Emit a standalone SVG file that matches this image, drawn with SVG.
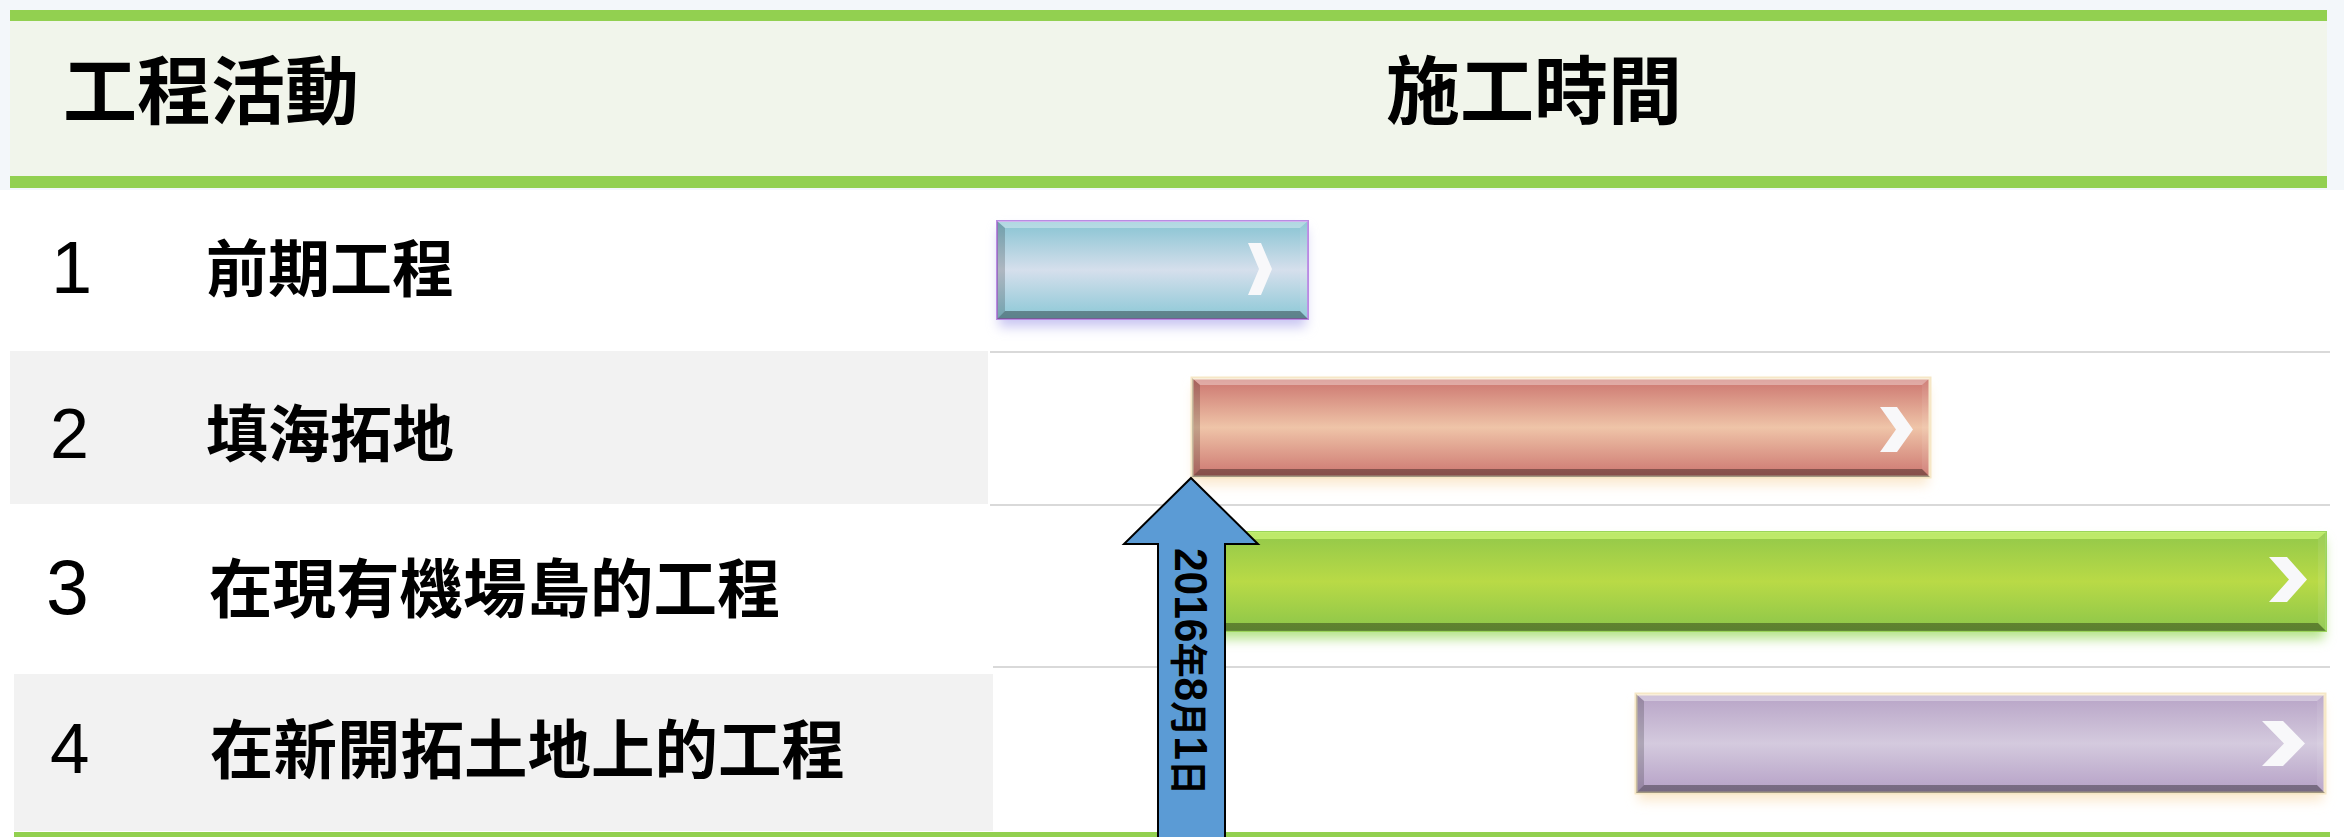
<svg xmlns="http://www.w3.org/2000/svg" width="2344" height="837" viewBox="0 0 2344 837">
<defs>
<style>
.cjk{font-family:"Noto Sans CJK TC","Noto Sans CJK SC",sans-serif;font-weight:bold;fill:#000}
.num{font-family:"Liberation Sans",Arial,sans-serif;fill:#000}
.grid{stroke:#D9D9D9;stroke-width:2}
.rowbg{fill:#F2F2F2}
.green{fill:#92D050}
.bt{fill:#FFFFFF;fill-opacity:0.35}
.bb{fill:#000000;fill-opacity:0.35}
.bl{fill:#000000;fill-opacity:0.18}
.br{fill:#FFFFFF;fill-opacity:0.08}
.chev{fill:#F8F8FA}
</style>
<linearGradient id="gBlue" x1="0" y1="0" x2="0" y2="1">
<stop offset="0" stop-color="#86C3D2"/><stop offset="0.5" stop-color="#D5DFEC"/><stop offset="1" stop-color="#8BC8D6"/>
</linearGradient>
<linearGradient id="gRed" x1="0" y1="0" x2="0" y2="1">
<stop offset="0" stop-color="#CB746E"/><stop offset="0.5" stop-color="#EFC4A8"/><stop offset="1" stop-color="#CC7670"/>
</linearGradient>
<linearGradient id="gGreen" x1="0" y1="0" x2="0" y2="1">
<stop offset="0" stop-color="#92C84A"/><stop offset="0.5" stop-color="#B9DA46"/><stop offset="1" stop-color="#8CC64A"/>
</linearGradient>
<linearGradient id="gPurple" x1="0" y1="0" x2="0" y2="1">
<stop offset="0" stop-color="#B7A3C6"/><stop offset="0.5" stop-color="#D4CADE"/><stop offset="1" stop-color="#B5A0C6"/>
</linearGradient>
<filter id="glow" x="-10%" y="-50%" width="120%" height="200%">
<feGaussianBlur stdDeviation="6"/>
</filter>
</defs>
<rect x="0" y="0" width="2344" height="837" fill="#FFFFFF"/>
<rect x="0" y="0" width="2344" height="190" fill="#F3F7FA"/>

<g id="header">
<rect x="10" y="10" width="2317" height="11" class="green"/>
<rect x="10" y="21" width="2317" height="155" fill="#F1F5EB"/>
<rect x="10" y="176" width="2317" height="12" class="green"/>
<text class="cjk" x="63" y="118" font-size="74">工程活動</text>
<text class="cjk" x="1386" y="118" font-size="74">施工時間</text>
</g>

<g id="gridlines">
<rect x="10" y="351" width="978" height="153" class="rowbg"/>
<rect x="14" y="674" width="979" height="157" class="rowbg"/>
<line x1="990" y1="352" x2="2330" y2="352" class="grid"/>
<line x1="990" y1="505" x2="2330" y2="505" class="grid"/>
<line x1="993" y1="667" x2="2330" y2="667" class="grid"/>
<rect x="14" y="832" width="2316" height="5" class="green"/>
</g>

<g id="row1">
<text class="num" x="51" y="293" font-size="74">1</text>
<text class="cjk" x="206" y="292" font-size="62">前期工程</text>
</g>
<g id="row2">
<text class="num" x="50" y="458" font-size="70">2</text>
<text class="cjk" x="206" y="457" font-size="62">填海拓地</text>
</g>
<g id="row3">
<text class="num" x="46" y="614" font-size="77">3</text>
<text class="cjk" x="209" y="612" font-size="63.5">在現有機場島的工程</text>
</g>
<g id="row4">
<text class="num" x="50" y="773" font-size="71">4</text>
<text class="cjk" x="210" y="773" font-size="63.5">在新開拓土地上的工程</text>
</g>

<g id="bar1">
<rect x="999" y="229" width="307" height="98" fill="#C9C6F2" filter="url(#glow)"/>
<rect x="997" y="221" width="311" height="98" fill="url(#gBlue)" stroke="#B98BE3" stroke-width="2"/>
<polygon points="997,221 1308,221 1300,228 1005,228" class="bt"/>
<polygon points="997,319 1308,319 1300,311 1005,311" class="bb"/>
<polygon points="997,221 1005,228 1005,311 997,319" class="bl"/>
<polygon points="1308,221 1300,228 1300,311 1308,319" class="br"/>
<path d="M1248,243 L1261,243 L1272,269 L1261,295 L1248,295 L1259,269 Z" class="chev"/>
</g>

<g id="bar2">
<rect x="1194" y="386" width="734" height="99" fill="#FBE9CF" filter="url(#glow)"/>
<rect x="1192" y="378" width="738" height="99" fill="url(#gRed)" stroke="#F6E7C6" stroke-width="3"/>
<polygon points="1192,378 1930,378 1922,385 1200,385" class="bt"/>
<polygon points="1192,477 1930,477 1922,469 1200,469" class="bb"/>
<polygon points="1192,378 1200,385 1200,469 1192,477" class="bl"/>
<polygon points="1930,378 1922,385 1922,469 1930,477" class="br"/>
<path d="M1880,407 L1897,407 L1913,429.5 L1897,452 L1880,452 L1896,429.5 Z" class="chev"/>
</g>

<g id="bar3">
<rect x="1202" y="540" width="1122" height="99" fill="#B5E38A" filter="url(#glow)"/>
<rect x="1200" y="532" width="1126" height="99" fill="url(#gGreen)" stroke="#9BD45A" stroke-width="2"/>
<polygon points="1200,532 2326,532 2318,539 1208,539" fill="#D8FF80" fill-opacity="0.6"/>
<polygon points="1200,631 2326,631 2318,623 1208,623" class="bb"/>
<polygon points="1200,532 1208,539 1208,623 1200,631" class="bl"/>
<polygon points="2326,532 2318,539 2318,623 2326,631" class="br"/>
<path d="M2269,557 L2287,557 L2307,579.5 L2287,602 L2269,602 L2289,579.5 Z" class="chev"/>
</g>

<g id="bar4">
<rect x="1638" y="702" width="685" height="99" fill="#FBE9CF" filter="url(#glow)"/>
<rect x="1636" y="694" width="689" height="99" fill="url(#gPurple)" stroke="#F6E7C6" stroke-width="3"/>
<polygon points="1636,694 2325,694 2317,701 1644,701" class="bt"/>
<polygon points="1636,793 2325,793 2317,785 1644,785" class="bb"/>
<polygon points="1636,694 1644,701 1644,785 1636,793" class="bl"/>
<polygon points="2325,694 2317,701 2317,785 2325,793" class="br"/>
<path d="M2262,721 L2283,721 L2305,743.5 L2283,766 L2262,766 L2284,743.5 Z" class="chev"/>
</g>

<g id="milestone">
<polygon points="1191,478 1258,544 1225,544 1225,840 1158,840 1158,544 1124,544" fill="#5B9BD5" stroke="#000" stroke-width="2"/>
<text transform="translate(1175,548) rotate(90)" x="0" y="0" font-family="Liberation Sans,Noto Sans CJK TC,sans-serif" font-weight="bold" font-size="46" textLength="247" lengthAdjust="spacingAndGlyphs">2016<tspan font-family="Noto Sans CJK TC,sans-serif" font-size="38">年</tspan>8<tspan font-family="Noto Sans CJK TC,sans-serif" font-size="38">月</tspan>1<tspan font-family="Noto Sans CJK TC,sans-serif" font-size="38">日</tspan></text>
</g>

<g id="connectors"></g>
</svg>
